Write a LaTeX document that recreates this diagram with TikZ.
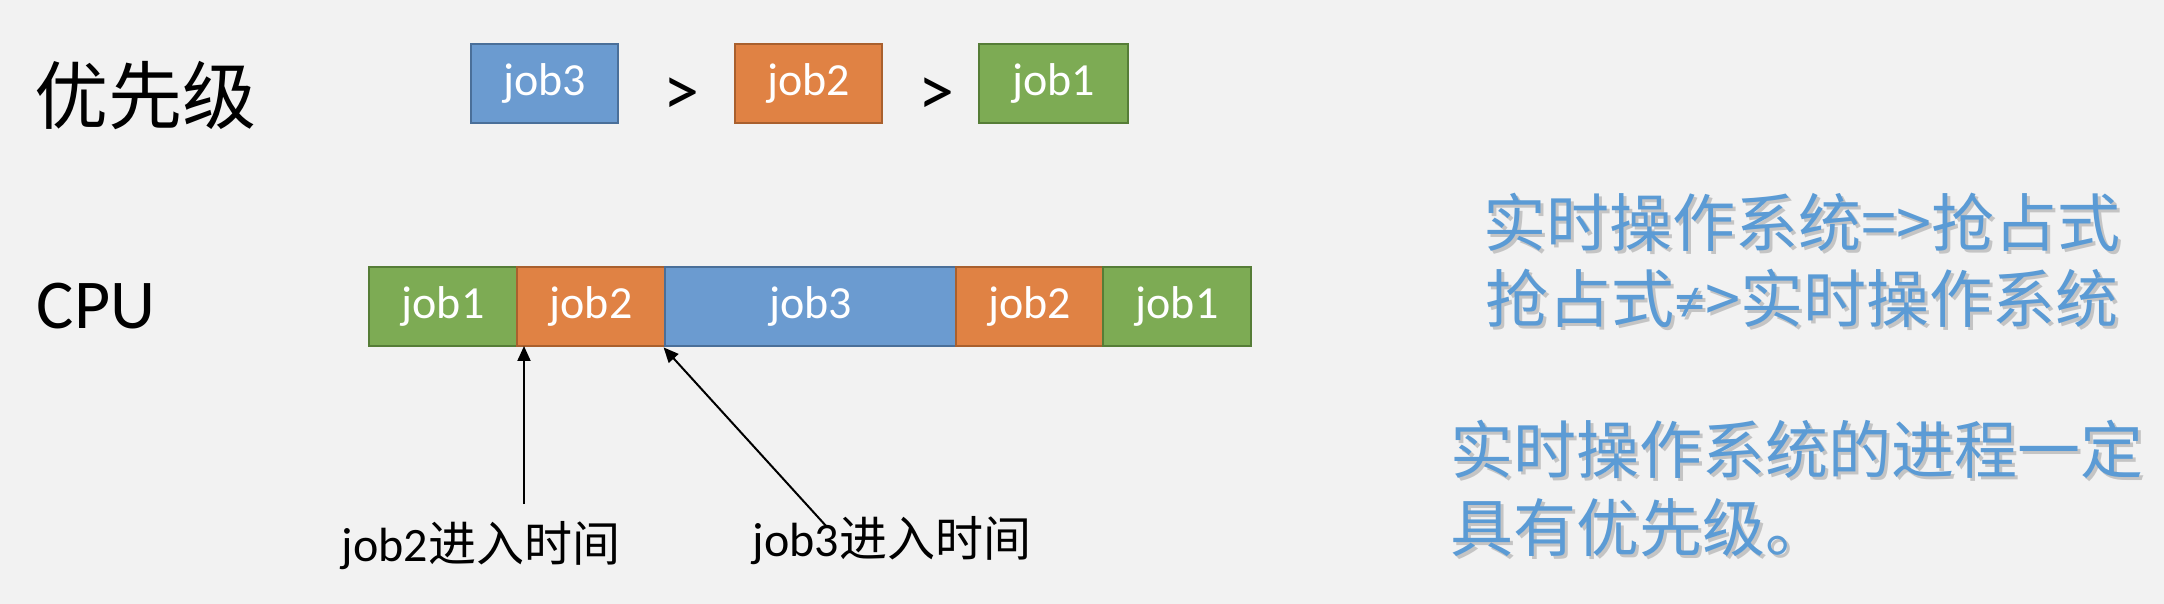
\documentclass[tikz,border=0pt]{standalone}
\usepackage{fontspec}
\setmainfont{Carlito}
\newfontfamily\cjk{Noto Sans CJK SC}
\newfontfamily\latn{Carlito}
\usetikzlibrary{arrows.meta}
\definecolor{bg}{HTML}{F2F2F2}
\definecolor{gfill}{HTML}{7DAB54}
\definecolor{gline}{HTML}{567D37}
\definecolor{ofill}{HTML}{E08244}
\definecolor{oline}{HTML}{A9602E}
\definecolor{bfill}{HTML}{6B9BD0}
\definecolor{bline}{HTML}{4A6F99}
\definecolor{tblue}{HTML}{5B9BD5}
\begin{document}
\begin{tikzpicture}[x=0.5pt,y=-0.5pt,
  jobbox/.style={draw, line width=1.4pt, minimum height=39.5pt, inner sep=0pt,
     text=white, font=\fontsize{23}{26}\selectfont},
  gbox/.style={jobbox, fill=gfill, draw=gline},
  obox/.style={jobbox, fill=ofill, draw=oline},
  bbox/.style={jobbox, fill=bfill, draw=bline},
  bigtxt/.style={inner sep=0pt, font=\fontsize{36}{40}\selectfont},
  lbl/.style={inner sep=0pt, font=\fontsize{24}{28}\selectfont},
  rtxt/.style={inner sep=0pt, text=tblue, font=\cjk\fontsize{31.5}{36}\selectfont},
  rshadow/.style={inner sep=0pt, text=black!35, opacity=0.6, font=\cjk\fontsize{31.5}{36}\selectfont},
  arr/.style={line width=1pt, -{Triangle[length=7.5pt,width=6.5pt]}}
]
\fill[bg] (0,0) rectangle (2164,604);
\useasboundingbox (0,0) rectangle (2164,604);

% priority row
\node[bigtxt, font=\cjk\fontsize{37}{42}\selectfont] (prio) at (145,96) {优先级};
\node[bbox, minimum width=73.5pt] (p3) at (544.5,83.5) {job3};
\node[bigtxt] (gt1) at (681,97) {>};
\node[obox, minimum width=73.5pt] (p2) at (808.5,83.5) {job2};
\node[bigtxt] (gt2) at (936,97) {>};
\node[gbox, minimum width=74.5pt] (p1) at (1053.5,83.5) {job1};

% CPU row
\node[bigtxt, font=\fontsize{35}{40}\selectfont] (cpu) at (96,306) {CPU};
\node[gbox, minimum width=74pt] (c1) at (443,306.5) {job1};
\node[obox, minimum width=74pt] (c2) at (591,306.5) {job2};
\node[bbox, minimum width=145.5pt] (c3) at (810.5,306.5) {job3};
\node[obox, minimum width=73.5pt] (c4) at (1029.5,306.5) {job2};
\node[gbox, minimum width=74pt] (c5) at (1177,306.5) {job1};

% arrows and labels
\coordinate (t1) at (524,346);
\coordinate (a1) at (524,504);
\coordinate (a2) at (827,527);
\draw[arr] (a1) -- (t1);
\draw[arr] (a2) -- (c3.south west);
\node[lbl] (l1) at (481,546) {job2{\cjk 进入时间}};
\node[lbl] (l2) at (892,541) {job3{\cjk 进入时间}};

% right texts
\node[rshadow] (s1) at (1805,225) {实时操作系统=>抢占式};
\node[rtxt] (r1) at (1802,222) {实时操作系统=>抢占式};
\node[rshadow] (s2) at (1805,301) {抢占式{\latn ≠}>实时操作系统};
\node[rtxt] (r2) at (1802,298) {抢占式{\latn ≠}>实时操作系统};
\node[rshadow, anchor=west] (s3) at (1453,452) {实时操作系统的进程一定};
\node[rtxt, anchor=west] (r3) at (1450,449) {实时操作系统的进程一定};
\node[rshadow, anchor=west] (s4) at (1453,531) {具有优先级。};
\node[rtxt, anchor=west] (r4) at (1450,528) {具有优先级。};
\end{tikzpicture}
\end{document}
